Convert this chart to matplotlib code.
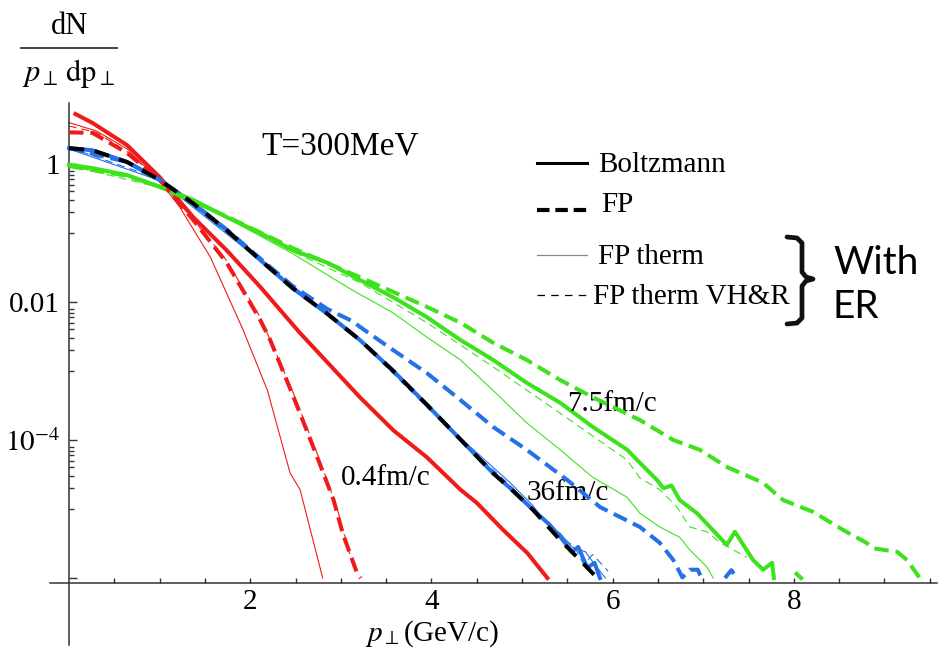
import numpy as np
import matplotlib
matplotlib.use("Agg")
import matplotlib.pyplot as plt
from matplotlib.lines import Line2D
from matplotlib.ticker import FixedLocator, FixedFormatter, NullFormatter

plt.rcParams['font.family'] = 'serif'
plt.rcParams['font.serif'] = ['Liberation Serif', 'DejaVu Serif']
plt.rcParams['mathtext.fontset'] = 'stix'

RED, GREEN, BLUE = '#f01a1a', '#3ee21c', '#2471e8'

### 0.4 fm/c (red)
red_boltz_x = [0.07, 0.26, 0.64, 1.0, 1.37, 1.74, 2.11, 2.55, 3.21, 3.58, 3.95, 4.32, 4.50, 4.79, 5.06, 5.28]
red_boltz_y = [5.31, 3.93, 1.88, 0.646, 0.170, 0.0562, 0.0166, 3.55e-3, 4.17e-4, 1.38e-4, 5.62e-5, 1.91e-5,
               1.23e-5, 5.0e-6, 2.29e-6, 1.0e-6]
red_fp_x = [0.0, 0.26, 0.64, 1.0, 1.37, 1.74, 2.11, 2.22, 2.47, 2.74, 2.92, 3.02, 3.18, 3.22]
red_fp_y = [2.88, 2.82, 1.45, 0.589, 0.155, 0.0372, 5.5e-3, 2.82e-3, 4.47e-4, 5.62e-5, 1.35e-5, 4.47e-6, 1.17e-6, 1.0e-6]
red_therm_x = [0.0, 0.3, 0.64, 1.0, 1.22, 1.56, 1.92, 2.19, 2.44, 2.55, 2.8]
red_therm_y = [3.98, 3.02, 1.66, 0.562, 0.24, 0.0447, 3.98e-3, 5.25e-4, 3.31e-5, 1.91e-5, 1.0e-6]
red_vhr_x = [0.0, 0.3, 0.64, 1.0, 1.37, 1.74, 2.11, 2.47, 2.74, 2.95, 3.15]
red_vhr_y = [3.55, 2.88, 1.51, 0.575, 0.158, 0.0398, 6.03e-3, 5.01e-4, 6.31e-5, 1.12e-5, 1.26e-6]

### 36 fm/c (blue) and equilibrium (black)
eq_x = [0.0, 0.26, 0.64, 1.0, 1.37, 1.74, 2.11, 2.47, 2.85, 3.21, 3.58, 3.95, 4.32, 4.68, 4.87, 5.12, 5.42, 5.64, 5.83]
eq_y = [1.70, 1.58, 1.07, 0.589, 0.269, 0.110, 0.0407, 0.0158, 6.76e-3, 2.82e-3, 1.0e-3, 3.24e-4, 1.02e-4,
        3.31e-5, 2.0e-5, 9.77e-6, 3.55e-6, 1.82e-6, 1.0e-6]
blue_boltz_x = [0.0, 0.26, 0.64, 1.0, 1.37, 1.74, 2.11, 2.47, 2.85, 3.21, 3.58, 3.95, 4.32, 4.68, 4.87, 5.12,
                5.3, 5.42, 5.55, 5.62, 5.72, 5.80, 5.86]
blue_boltz_y = [1.70, 1.58, 1.07, 0.589, 0.269, 0.110, 0.0407, 0.0158, 6.76e-3, 2.82e-3, 1.0e-3, 3.24e-4, 1.02e-4,
                3.31e-5, 2.0e-5, 9.77e-6, 6.0e-6, 3.98e-6, 2.4e-6, 2.82e-6, 1.41e-6, 1.66e-6, 1.0e-6]
blue_fp_x = [0.0, 0.64, 1.0, 1.37, 1.74, 2.11, 2.47, 2.85, 3.13, 3.21, 3.58, 3.95, 4.32, 4.68, 5.05, 5.5, 5.86,
             6.30, 6.52, 6.67, 6.77, 6.85, 6.94, 6.98]
blue_fp_y = [1.70, 1.07, 0.589, 0.269, 0.112, 0.0427, 0.0170, 7.94e-3, 5.25e-3, 4.37e-3, 2.0e-3, 9.33e-4, 3.80e-4,
             1.55e-4, 7.24e-5, 2.63e-5, 1.07e-5, 5.5e-6, 3.24e-6, 1.82e-6, 1.02e-6, 1.32e-6, 1.32e-6, 1.0e-6]
blue_fp_tail_x = [7.24, 7.31, 7.37]
blue_fp_tail_y = [1.0e-6, 1.3e-6, 1.0e-6]
blue_therm_x = [0.0, 1.0, 2.11, 3.21, 4.32, 4.87, 5.12, 5.3, 5.42, 5.55, 5.7, 5.8, 5.92]
blue_therm_y = [1.66, 0.575, 0.0398, 2.88e-3, 1.07e-4, 2.4e-5, 1.12e-5, 5.6e-6, 4.47e-6, 2.82e-6, 2.4e-6, 1.58e-6, 1.0e-6]
blue_vhr_x = [0.0, 1.0, 2.11, 3.21, 4.32, 4.87, 5.2, 5.45, 5.58, 5.68, 5.78, 5.95]
blue_vhr_y = [1.74, 0.603, 0.0417, 2.75e-3, 1.0e-4, 2.19e-5, 7.94e-6, 3.8e-6, 2.82e-6, 1.58e-6, 2.19e-6, 1.26e-6]

### 7.5 fm/c (green)
green_boltz_x = [0.0, 0.26, 0.64, 1.0, 1.37, 1.74, 2.11, 2.47, 2.85, 3.21, 3.58, 3.95, 4.32, 4.68, 5.05, 5.42, 5.78,
                 6.16, 6.3, 6.49, 6.56, 6.65, 6.74, 6.93, 7.26, 7.35, 7.55, 7.66, 7.76, 7.78]
green_boltz_y = [0.977, 0.871, 0.692, 0.468, 0.302, 0.170, 0.1, 0.0562, 0.0372, 0.0209, 0.0117, 6.03e-3, 2.82e-3,
                 1.45e-3, 6.76e-4, 3.47e-4, 1.55e-4, 7.24e-5, 4.68e-5, 2.63e-5, 2.0e-5, 2.19e-5, 1.35e-5, 8.71e-6,
                 3.02e-6, 4.68e-6, 1.82e-6, 1.32e-6, 1.66e-6, 1.0e-6]
green_boltz_tail_x = [8.03, 8.08]
green_boltz_tail_y = [1.15e-6, 1.0e-6]
green_fp_x = [0.0, 0.64, 1.0, 1.74, 2.47, 3.21, 3.95, 4.32, 4.68, 5.05, 5.42, 5.78, 6.3, 6.67, 6.96, 7.26, 7.66,
              7.88, 8.21, 8.54, 8.8, 8.88, 9.14, 9.25, 9.39]
green_fp_y = [0.933, 0.676, 0.468, 0.174, 0.0603, 0.0229, 8.51e-3, 5.01e-3, 2.57e-3, 1.45e-3, 7.41e-4, 4.17e-4,
              1.95e-4, 1.0e-4, 7.24e-5, 4.07e-5, 2.4e-5, 1.35e-5, 9.12e-6, 5.01e-6, 3.24e-6, 2.69e-6, 2.4e-6,
              1.82e-6, 1.0e-6]
green_therm_x = [0.0, 0.64, 1.0, 1.74, 2.47, 3.13, 3.58, 3.95, 4.32, 4.68, 5.05, 5.42, 5.78, 6.16, 6.3, 6.52,
                 6.74, 6.85, 7.04, 7.11]
green_therm_y = [0.955, 0.676, 0.468, 0.166, 0.0501, 0.0148, 6.92e-3, 3.09e-3, 1.45e-3, 5.25e-4, 1.78e-4, 7.24e-5,
                 2.88e-5, 1.48e-5, 8.71e-6, 5.5e-6, 3.89e-6, 2.57e-6, 1.45e-6, 1.0e-6]
green_vhr_x = [0.0, 1.0, 1.74, 2.47, 3.21, 3.95, 4.68, 5.42, 6.16, 6.3, 6.52, 6.71, 6.85, 7.04, 7.19, 7.48]
green_vhr_y = [0.955, 0.457, 0.166, 0.0537, 0.0191, 5.01e-3, 1.15e-3, 2.45e-4, 5.13e-5, 2.82e-5, 1.91e-5,
               1.07e-5, 5.5e-6, 4.68e-6, 3.24e-6, 2.0e-6]

legend_labels = ['Boltzmann', 'FP', 'FP therm', 'FP therm VH&R']
curve_labels = [('0.4fm/c', 3.50, 2.8e-5), ('36fm/c', 5.50, 1.7e-5), ('7.5fm/c', 5.99, 3.3e-4)]

W, H = 940, 653
def fx(px): return px / W
def fy(py): return 1 - py / H

THICK, THIN = 2.9, 0.8
DASH_THICK = (3.6, 1.7)
DASH_THIN = (7, 4.5)

fig = plt.figure(figsize=(W / 100, H / 100), dpi=100)
ax = fig.add_axes([fx(50), fy(645), fx(937) - fx(50), fy(103) - fy(645)])

def curve(x, y, c, lw, dashes=None, z=2):
    line, = ax.plot(x, y, color=c, lw=lw, zorder=z, solid_joinstyle='round')
    if dashes is not None:
        line.set_dashes(dashes)
        line.set_dash_capstyle('butt')
    return line

# thin curves (FP therm, FP therm VH&R)
for x, y, c in [(red_therm_x, red_therm_y, RED), (blue_therm_x, blue_therm_y, BLUE),
                (green_therm_x, green_therm_y, GREEN)]:
    curve(x, y, c, THIN, z=2)
for x, y, c in [(red_vhr_x, red_vhr_y, RED), (blue_vhr_x, blue_vhr_y, BLUE),
                (green_vhr_x, green_vhr_y, GREEN)]:
    curve(x, y, c, THIN, DASH_THIN, z=2)

# thick solid (Boltzmann)
curve(red_boltz_x, red_boltz_y, RED, THICK, z=3)
curve(blue_boltz_x, blue_boltz_y, BLUE, THICK, z=3)
curve(green_boltz_x, green_boltz_y, GREEN, THICK, z=3)
curve(green_boltz_tail_x, green_boltz_tail_y, GREEN, THICK, z=3)

# thick dashed (FP)
curve(red_fp_x, red_fp_y, RED, THICK, DASH_THICK, z=4)
curve(blue_fp_x, blue_fp_y, BLUE, THICK, DASH_THICK, z=4)
curve(blue_fp_tail_x, blue_fp_tail_y, BLUE, THICK, DASH_THICK, z=4)
curve(green_fp_x, green_fp_y, GREEN, THICK, DASH_THICK, z=4)

# equilibrium, black dashed over blue
curve(eq_x, eq_y, 'black', THICK, (3.8, 2.6), z=5)

ax.set_yscale('log')
ax.set_xlim(-0.21, 9.58)
ax.set_ylim(1.07e-7, 7.66)
ax.patch.set_alpha(0)

for s in ['top', 'right']:
    ax.spines[s].set_visible(False)
ax.spines['left'].set_position(('data', 0))
ax.spines['bottom'].set_position(('data', 8.5e-7))
for s in ['left', 'bottom']:
    ax.spines[s].set_color('#333333')
    ax.spines[s].set_linewidth(1.1)

ax.xaxis.set_major_locator(FixedLocator([2, 4, 6, 8]))
ax.xaxis.set_minor_locator(FixedLocator(np.arange(0.5, 9.6, 0.5)))
ax.yaxis.set_major_locator(FixedLocator([1, 1e-2, 1e-4, 1e-6]))
ax.yaxis.set_major_formatter(FixedFormatter(['1', '0.01', r'$10^{-4}$', '']))
ax.yaxis.set_minor_locator(FixedLocator([m * 10.0 ** k for k in (0, -2, -4)
                                         for m in (0.1, 0.2, 0.3, 0.4, 0.5, 0.6, 0.7, 0.8)]))
ax.yaxis.set_minor_formatter(NullFormatter())
ax.tick_params(which='both', direction='in', color='#333333', width=1.0, labelsize=21)
ax.tick_params(axis='x', which='both', length=3.6, pad=4.5)
ax.tick_params(axis='y', which='major', length=5.8, pad=6.5)
ax.tick_params(axis='y', which='minor', length=3.6)

# annotations
ax.text(2.99, 1.82, 'T=300MeV', fontsize=24, ha='center', va='center')
for txt, x, y in curve_labels:
    ax.text(x, y, txt, fontsize=21, ha='center', va='center')

# axis labels
fig.text(fx(432), fy(641), r'$p_{\perp}$(GeV/c)', fontsize=21, ha='center', va='baseline')
fig.text(fx(69), fy(26), 'dN', fontsize=22, ha='center', va='center')
fig.add_artist(Line2D([fx(21), fx(117)], [fy(48), fy(48)], color='#333333', lw=1.3))
fig.text(fx(69), fy(74), r'$p_{\perp}\,\mathrm{dp}_{\perp}$', fontsize=22, ha='center', va='center')

# legend
leg_rows = [(165, 163, 598, dict(color='black', lw=2.2)),
            (205, 210, 601, dict(color='black', lw=3.0, dashes=(3.0, 1.4))),
            (257, 255, 598, dict(color='#888888', lw=0.9)),
            (297, 295, 593, dict(color='black', lw=0.9, dashes=(6, 5)))]
for (ty, ly, tx, style), lab in zip(leg_rows, legend_labels):
    ln = Line2D([fx(537), fx(587)], [fy(ly), fy(ly)], **style)
    ln.set_dash_capstyle('butt')
    fig.add_artist(ln)
    fig.text(fx(tx), fy(ty), lab, fontsize=21, ha='left', va='center')

brace = [(787, 237), (797, 238), (802, 243), (802, 272), (806, 277), (813, 279), (806, 281),
         (802, 286), (802, 318), (797, 323), (787, 324)]
fig.add_artist(Line2D([fx(p[0]) for p in brace], [fy(p[1]) for p in brace], color='#111111',
                      lw=3.4, solid_joinstyle='round', solid_capstyle='round'))
fig.text(fx(833), fy(263), 'With', fontsize=28, family=['Lato', 'DejaVu Sans'], ha='left', va='center')
fig.text(fx(833), fy(307), 'ER', fontsize=28, family=['Lato', 'DejaVu Sans'], ha='left', va='center')

fig.savefig('out.png', dpi=100)
